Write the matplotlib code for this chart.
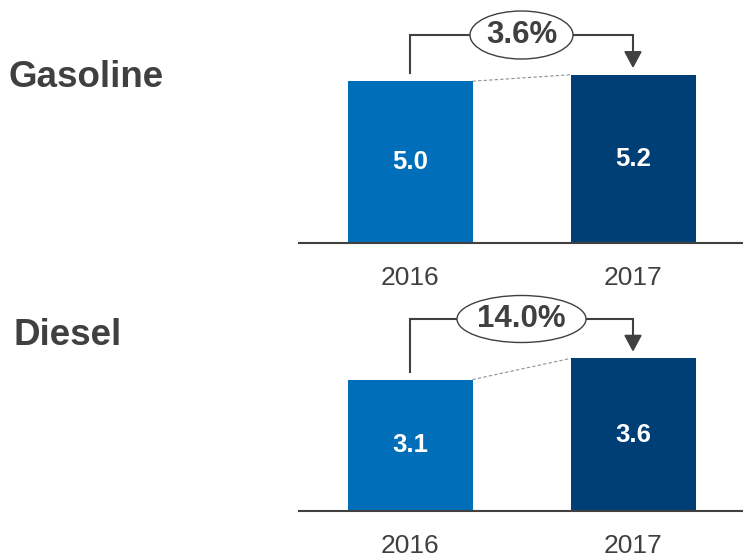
import matplotlib
matplotlib.use("Agg")
import matplotlib.pyplot as plt
from matplotlib.patches import Ellipse, Polygon

# ---- data ----
years = ["2016", "2017"]
fuels = ["Gasoline", "Diesel"]
gasoline = [5.0, 5.2]
diesel = [3.1, 3.6]
growth = ["3.6%", "14.0%"]

# ---- style ----
C16 = "#006EB8"
C17 = "#003F76"
DARK = "#404040"
plt.rcParams["font.family"] = ["Liberation Sans", "DejaVu Sans"]

W, H = 743, 553
fig = plt.figure(figsize=(W / 100, H / 100), dpi=100)

X_LEFT, X_RIGHT = 299, 743
C0, C1 = 410, 633          # bar centres in px
PPX = C1 - C0              # px per x unit
BAR_W = 125


def panel(values, title, grow, base_px, top_px, ppu, bracket_px, ell_w, ell_h,
          title_x, title_base):
    ax = fig.add_axes([X_LEFT / W, 1 - base_px / H, (X_RIGHT - X_LEFT) / W,
                       (base_px - top_px) / H])
    ax.set_ylim(0, (base_px - top_px) / ppu)
    ax.set_xlim(-(C0 - X_LEFT) / PPX, 1 + (X_RIGHT - C1) / PPX)
    dx = lambda p: p / PPX
    dy = lambda p: p / ppu
    x = [0, 1]
    bw = dx(BAR_W)
    ax.bar(x, values, width=bw, color=[C16, C17], zorder=2)
    for xi, v in zip(x, values):
        ax.text(xi, v / 2, f"{v:.1f}", ha="center", va="center",
                color="white", fontsize=18.5, fontweight="bold", zorder=3)
    # dashed connector
    ax.plot([x[0] + bw / 2, x[1] - bw / 2], values, ls=(0, (3, 2)),
            color="#909090", lw=0.8, zorder=1)
    # bracket
    by = (base_px - bracket_px) / ppu
    tip = values[1] + dy(8)
    head = dy(15)
    ax.plot([0, 0, 1, 1], [values[0] + dy(8), by, by, tip + head],
            color=DARK, lw=1.5, zorder=3, solid_joinstyle="miter")
    ax.add_patch(Polygon([[1 - dx(8), tip + head], [1 + dx(8), tip + head],
                          [1, tip]], closed=True, color=DARK, zorder=3))
    ax.add_patch(Ellipse((0.5, by), dx(ell_w), dy(ell_h), facecolor="white",
                         edgecolor=DARK, lw=1.0, zorder=4))
    ax.text(0.5, by, grow, ha="center", va="center", fontsize=22.5,
            fontweight="bold", color=DARK, zorder=5)
    # axes styling
    for s in ["left", "right", "top"]:
        ax.spines[s].set_visible(False)
    ax.spines["bottom"].set_color(DARK)
    ax.spines["bottom"].set_linewidth(1.5)
    ax.set_yticks([])
    ax.set_xticks(x, years)
    ax.tick_params(axis="x", length=0, pad=16.5, labelsize=19, labelcolor=DARK)
    fig.text(title_x / W, 1 - title_base / H, title, ha="left", va="baseline",
             fontsize=26.5, fontweight="bold", color=DARK)
    return ax


panel(gasoline, fuels[0], growth[0], base_px=242.7, top_px=0, ppu=32.3,
      bracket_px=35, ell_w=103, ell_h=48, title_x=9, title_base=86.7)
panel(diesel, fuels[1], growth[1], base_px=510.7, top_px=290, ppu=42.3,
      bracket_px=319, ell_w=129, ell_h=47, title_x=14, title_base=345)

fig.savefig("out.png", dpi=100)
